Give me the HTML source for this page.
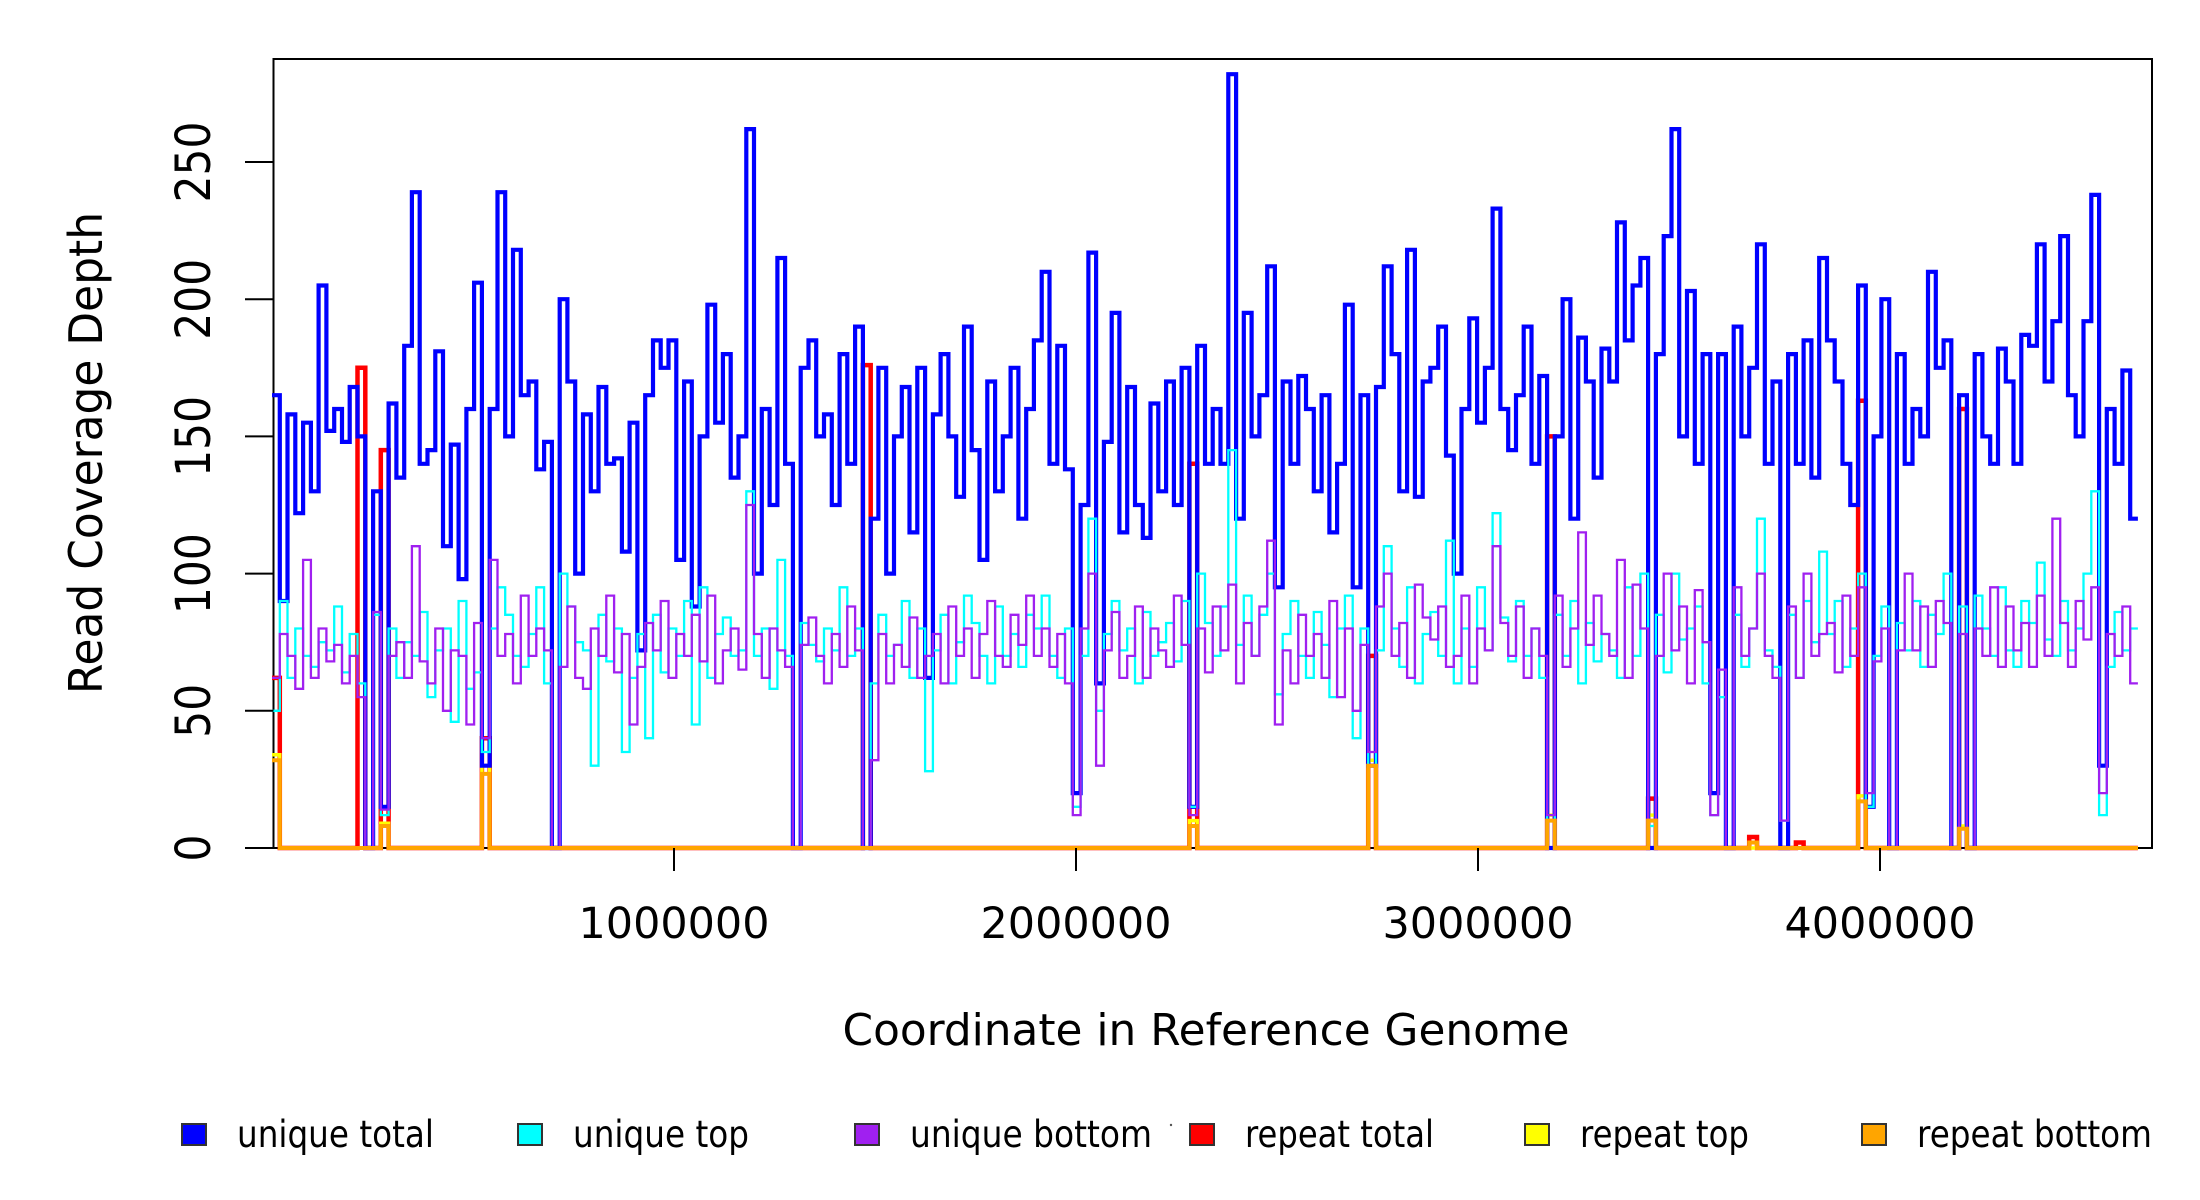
<!DOCTYPE html>
<html><head><meta charset="utf-8"><title>Read Coverage Depth</title>
<style>html,body{margin:0;padding:0;background:#fff}svg{display:block}text{font-family:"DejaVu Sans","Liberation Sans",sans-serif;fill:#000}</style>
</head><body>
<svg id="chart" width="2200" height="1200" viewBox="0 0 2200 1200" xmlns="http://www.w3.org/2000/svg">
<rect x="0" y="0" width="2200" height="1200" fill="#fff"/>
<rect x="273.5" y="59" width="1878.5" height="789" fill="none" stroke="#000" stroke-width="2"/>
<g id="series"></g>
<g id="axes"></g>
<text x="102" y="453" transform="rotate(-90 102 453)" text-anchor="middle" font-size="46" textLength="482" lengthAdjust="spacingAndGlyphs">Read Coverage Depth</text>
<text x="1206" y="1045" text-anchor="middle" font-size="44" textLength="727" lengthAdjust="spacingAndGlyphs">Coordinate in Reference Genome</text>
<circle cx="1171" cy="1125" r="1.2" fill="#555"/>
<g id="legend"></g>
</svg>
<script>
const binCount = 240;
const genomeLength = 4641652;
const uniqueTotal = [
165,90,158,122,155,130,205,152,160,148,
168,150,0,130,15,162,135,183,239,140,
145,181,110,147,98,160,206,30,160,239,
150,218,165,170,138,148,0,200,170,100,
158,130,168,140,142,108,155,72,165,185,
175,185,105,170,88,150,198,155,180,135,
150,262,100,160,125,215,140,0,175,185,
150,158,125,180,140,190,0,120,175,100,
150,168,115,175,62,158,180,150,128,190,
145,105,170,130,150,175,120,160,185,210,
140,183,138,20,125,217,60,148,195,115,
168,125,113,162,130,170,125,175,15,183,
140,160,140,282,120,195,150,165,212,95,
170,140,172,160,130,165,115,140,198,95,
165,30,168,212,180,130,218,128,170,175,
190,143,100,160,193,155,175,233,160,145,
165,190,140,172,0,150,200,120,186,170,
135,182,170,228,185,205,215,0,180,223,
262,150,203,140,180,20,180,0,190,150,
175,220,140,170,0,180,140,185,135,215,
185,170,140,125,205,15,150,200,0,180,
140,160,150,210,175,185,0,165,0,180,
150,140,182,170,140,187,183,220,170,192,
223,165,150,192,238,30,160,140,174,120];
const uniqueTop = [
50,90,62,80,70,66,75,72,88,64,
78,60,0,85,12,80,62,75,70,86,
55,72,80,46,90,58,64,35,80,95,
85,70,66,78,95,60,0,100,88,75,
72,30,85,68,80,35,62,78,40,85,
64,80,70,90,45,95,62,78,84,70,
72,130,70,80,58,105,70,0,82,74,
68,80,72,95,70,80,0,60,85,70,
74,90,62,80,28,72,85,60,75,92,
82,70,60,88,70,78,66,85,80,92,
70,62,80,15,70,120,50,78,90,72,
80,60,86,70,75,82,68,90,15,100,
82,70,88,145,74,92,70,85,100,56,
78,90,70,62,86,74,55,80,92,40,
80,30,72,110,80,66,95,60,78,86,
70,112,60,80,66,95,72,122,84,68,
90,70,80,62,10,85,70,90,60,82,
68,78,72,62,95,70,100,8,85,64,
100,76,80,88,60,12,55,0,85,66,
80,120,72,66,10,85,62,90,75,108,
78,90,66,80,100,15,70,88,0,82,
72,90,66,85,78,100,0,88,0,92,
80,70,95,72,66,90,82,104,76,70,
90,72,80,100,130,12,66,86,72,80];
const uniqueBottom = [
62,78,70,58,105,62,80,68,74,60,
70,55,0,86,14,70,75,62,110,68,
60,80,50,72,70,45,82,40,105,70,
78,60,92,70,80,72,0,66,88,62,
58,80,70,92,64,78,45,66,82,72,
90,62,78,70,85,68,92,60,72,80,
65,125,78,62,80,72,66,0,74,84,
70,60,78,66,88,72,0,32,78,60,
74,66,84,62,70,78,60,88,70,80,
62,78,90,70,66,85,74,92,70,80,
66,78,60,12,80,100,30,72,86,62,
70,88,62,80,72,66,92,74,12,80,
64,88,72,96,60,82,70,88,112,45,
72,60,85,70,78,62,90,55,80,50,
74,35,88,100,70,82,62,96,84,76,
88,66,70,92,60,80,72,110,82,70,
88,62,80,70,12,92,66,80,115,74,
92,78,70,105,62,96,80,10,70,100,
72,88,60,94,75,12,65,0,95,70,
80,100,70,62,10,88,62,100,70,78,
82,64,92,70,95,20,68,80,0,72,
100,72,88,66,90,82,0,78,0,80,
70,95,66,88,72,82,66,92,70,120,
82,66,90,76,95,20,78,70,88,60];
const repeatTotalBins = [0,11,14,27,76,118,141,164,177,190,196,204,217];
const repeatTotalVals = [62,175,145,40,176,140,70,150,18,4,2,163,160];
const repeatTopBins = [0,14,27,118,141,164,177,204,217];
const repeatTopVals = [34,9,30,10,32,12,12,19,8];
const repeatBottomBins = [0,14,27,118,141,164,177,190,204,217];
const repeatBottomVals = [32,8,27,8,30,10,10,2,17,7];
const yTicks = [0,50,100,150,200,250];
const yTickLabelLengths = [27,54,81,81,81,81];
const xTicks = [1000000,2000000,3000000,4000000];
const xTickLabels = ["1000000","2000000","3000000","4000000"];
const legendLabels = ["unique total","unique top","unique bottom","repeat total","repeat top","repeat bottom"];
const legendColors = ["#0000ff","#00ffff","#a020f0","#ff0000","#ffff00","#ffa500"];
const legendBoxX = [182,518,855,1190,1525,1862];
const legendTextLen = [197,176,242,189,169,235];

const NS = "http://www.w3.org/2000/svg";
const X0 = 272, PXPERBP = 402/1000000;
const Y0 = 848, PXPERUNIT = 686/250;
function xs(g){ return X0 + g*PXPERBP; }
function ys(v){ return Y0 - v*PXPERUNIT; }
const binW = genomeLength/binCount;

function sparse(bins, vals){
  const a = new Array(binCount).fill(0);
  bins.forEach((b,i)=>{ a[b] = vals[i]; });
  return a;
}
function stepPath(arr){
  let d = "M" + xs(0).toFixed(1) + "," + ys(arr[0]).toFixed(1);
  for (let i=0;i<arr.length;i++){
    d += "H" + xs((i+1)*binW).toFixed(1);
    if (i+1 < arr.length) d += "V" + ys(arr[i+1]).toFixed(1);
  }
  return d;
}
const seriesG = document.getElementById("series");
function addSeries(arr, color, width, name){
  const p = document.createElementNS(NS,"path");
  p.setAttribute("d", stepPath(arr));
  p.setAttribute("fill","none");
  p.setAttribute("stroke",color);
  p.setAttribute("stroke-width",width);
  p.setAttribute("stroke-linejoin","miter");
  
  
  seriesG.appendChild(p);
}
addSeries(sparse(repeatTotalBins, repeatTotalVals), "#ff0000", 4.5, "repeat-total-line");
addSeries(sparse(repeatTopBins, repeatTopVals), "#ffff00", 3.5, "repeat-top-line");
addSeries(uniqueTotal, "#0000ff", 4.2, "unique-total-line");
addSeries(uniqueTop, "#00ffff", 2.3, "unique-top-line");
addSeries(uniqueBottom, "#a020f0", 2.3, "unique-bottom-line");
addSeries(sparse(repeatBottomBins, repeatBottomVals), "#ffa500", 4, "repeat-bottom-line");

const axesG = document.getElementById("axes");
yTicks.forEach((v,i)=>{
  const l = document.createElementNS(NS,"line");
  l.setAttribute("x1",245); l.setAttribute("x2",273.5);
  l.setAttribute("y1",ys(v)); l.setAttribute("y2",ys(v));
  l.setAttribute("stroke","#000"); l.setAttribute("stroke-width",2);
  
  
  axesG.appendChild(l);
  const t = document.createElementNS(NS,"text");
  t.setAttribute("x",210); t.setAttribute("y",ys(v));
  t.setAttribute("transform","rotate(-90 210 "+ys(v)+")");
  t.setAttribute("text-anchor","middle");
  t.setAttribute("font-size",48);
  t.setAttribute("textLength",yTickLabelLengths[i]);
  t.setAttribute("lengthAdjust","spacingAndGlyphs");
  t.textContent = String(v);
  
  
  axesG.appendChild(t);
});
xTicks.forEach((v,i)=>{
  const l = document.createElementNS(NS,"line");
  l.setAttribute("x1",xs(v)); l.setAttribute("x2",xs(v));
  l.setAttribute("y1",848); l.setAttribute("y2",871);
  l.setAttribute("stroke","#000"); l.setAttribute("stroke-width",2);
  
  
  axesG.appendChild(l);
  const t = document.createElementNS(NS,"text");
  t.setAttribute("x",xs(v)); t.setAttribute("y",938);
  t.setAttribute("text-anchor","middle");
  t.setAttribute("font-size",43);
  t.setAttribute("textLength",191);
  t.setAttribute("lengthAdjust","spacingAndGlyphs");
  t.textContent = xTickLabels[i];
  
  
  axesG.appendChild(t);
});
const legG = document.getElementById("legend");
legendLabels.forEach((lab,i)=>{
  const r = document.createElementNS(NS,"rect");
  r.setAttribute("x",legendBoxX[i]); r.setAttribute("y",1124);
  r.setAttribute("width",24); r.setAttribute("height",21);
  r.setAttribute("fill",legendColors[i]); r.setAttribute("stroke","#333"); r.setAttribute("stroke-width",2);
  
  
  legG.appendChild(r);
  const t = document.createElementNS(NS,"text");
  t.setAttribute("x",legendBoxX[i]+55); t.setAttribute("y",1147);
  t.setAttribute("font-size",37);
  t.setAttribute("textLength",legendTextLen[i]);
  t.setAttribute("lengthAdjust","spacingAndGlyphs");
  t.textContent = lab;
  
  
  legG.appendChild(t);
});
</script>
</body></html>
